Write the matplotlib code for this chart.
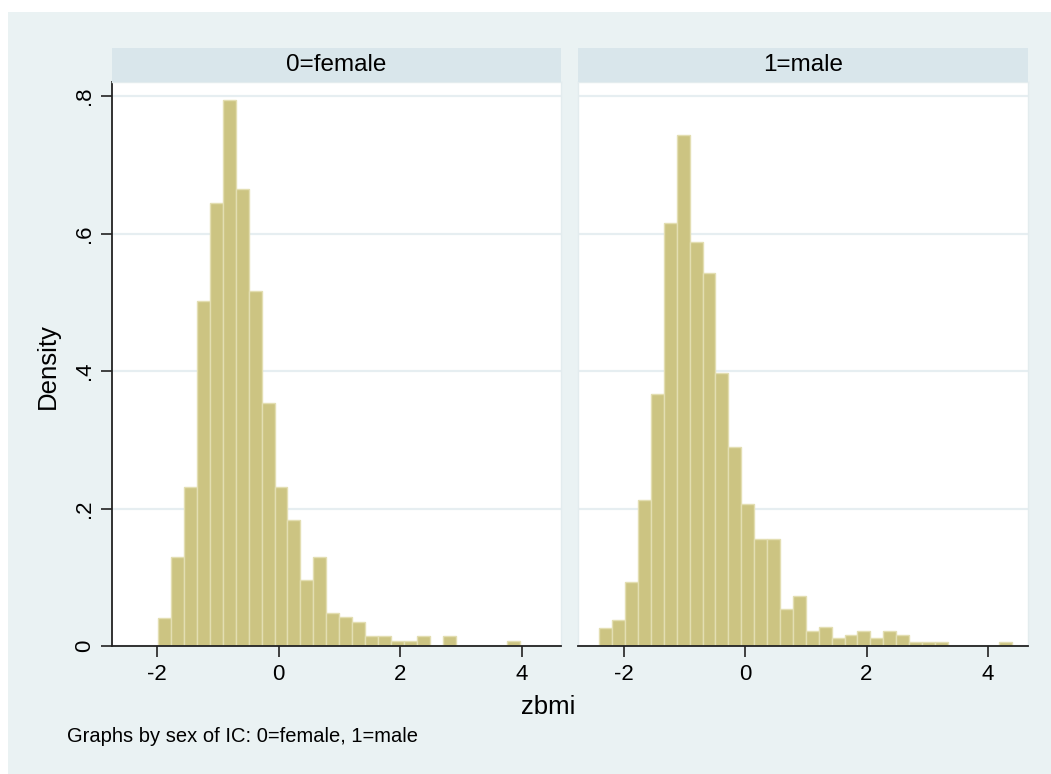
import matplotlib
matplotlib.use("Agg")
import matplotlib.pyplot as plt
from matplotlib.patches import Rectangle
import numpy as np

plt.rcParams['font.family'] = ['Liberation Sans', 'DejaVu Sans']

# Histogram densities of zbmi, by sex
panel_titles = ["0=female", "1=male"]

female_start = -1.984
female_width = 0.2129
female_density = [0.041, 0.130, 0.232, 0.502, 0.644, 0.794, 0.665, 0.516,
                  0.353, 0.232, 0.184, 0.0955, 0.130, 0.048, 0.0417, 0.035,
                  0.0145, 0.0145, 0.0078, 0.0078, 0.0145, 0.0, 0.0145, 0.0,
                  0.0, 0.0, 0.0, 0.0078]

male_start = -2.40
male_width = 0.2125
male_density = [0.0267, 0.0373, 0.0936, 0.213, 0.3665, 0.615, 0.744, 0.588,
                0.542, 0.397, 0.290, 0.207, 0.1556, 0.1556, 0.0533, 0.0732,
                0.0218, 0.0272, 0.0112, 0.016, 0.0218, 0.0112, 0.0218, 0.016,
                0.0063, 0.0063, 0.0063, 0.0, 0.0, 0.0, 0.0, 0.0063]

x_ticks = [-2, 0, 2, 4]
x_ticklabels = ["-2", "0", "2", "4"]
y_ticks = [0, 0.2, 0.4, 0.6, 0.8]
y_ticklabels = ["0", ".2", ".4", ".6", ".8"]

BG = "#EAF2F3"
STRIP = "#D9E6EB"
GRID = "#E6EEF1"
FILL = "#CCC482"
EDGE = "#E3DEB2"

W, H = 1051, 774
fig = plt.figure(figsize=(W / 100, H / 100), dpi=100, facecolor="white")

# graph region background
fig.patches.append(Rectangle((8 / W, 0), 1 - 8 / W, 1 - 12 / H,
                             transform=fig.transFigure, facecolor=BG,
                             edgecolor="none", zorder=-10))

def fx(px):
    return px / W

def fy(py):
    return 1 - py / H

panels = [
    (112, 561, female_start, female_width, female_density),
    (578.3, 1027.5, male_start, male_width, male_density),
]

TICK_FS = 16
for i, (x0, x1, start, width, dens) in enumerate(panels):
    ax = fig.add_axes([fx(x0), fy(646), fx(x1 - x0), (646 - 82) / H])
    ax.set_facecolor("white")
    edges = start + width * np.arange(len(dens))
    ax.bar(edges, dens, width=width, align="edge", color=FILL,
           edgecolor=EDGE, linewidth=1.0, zorder=2)
    ax.set_xlim(-2.745, 4.65)
    ax.set_ylim(0, 0.8204)
    ax.set_yticks(y_ticks)
    ax.yaxis.grid(True, color=GRID, linewidth=1.6, zorder=0)
    ax.set_axisbelow(True)
    ax.set_xticks(x_ticks)
    ax.set_xticklabels(x_ticklabels, fontsize=TICK_FS)
    ax.tick_params(axis="x", direction="out", length=8, width=1.2,
                   color="#222222", pad=5)
    for s in ["top", "right"]:
        ax.spines[s].set_color("#E3ECEE")
        ax.spines[s].set_linewidth(1.0)
    ax.spines["bottom"].set_color("#222222")
    ax.spines["bottom"].set_linewidth(1.3)
    if i == 0:
        ax.set_yticklabels(y_ticklabels, fontsize=TICK_FS, rotation=90,
                           va="center")
        ax.tick_params(axis="y", direction="out", length=8, width=1.2,
                       color="#222222", pad=4)
        ax.spines["left"].set_color("#222222")
        ax.spines["left"].set_linewidth(1.3)
    else:
        ax.set_yticklabels([])
        ax.tick_params(axis="y", length=0)
        ax.spines["left"].set_color("#E3ECEE")
        ax.spines["left"].set_linewidth(1.0)

    # title strip
    sax = fig.add_axes([fx(x0), fy(82), fx(x1 - x0), 34 / H])
    sax.set_facecolor(STRIP)
    sax.set_xticks([])
    sax.set_yticks([])
    for s in sax.spines.values():
        s.set_visible(False)
    sax.text(0.5, 0.5, panel_titles[i], ha="center", va="center",
             fontsize=17.5, transform=sax.transAxes)

fig.text(fx(48), fy(366), "Density", rotation=90, ha="center", va="center",
         fontsize=18.5)
fig.text(fx(548), fy(707), "zbmi", ha="center", va="center", fontsize=18.5)
fig.text(fx(67), fy(737), "Graphs by sex of IC: 0=female, 1=male",
         ha="left", va="center", fontsize=14.5)

fig.savefig("out.png", dpi=100, facecolor="white")
